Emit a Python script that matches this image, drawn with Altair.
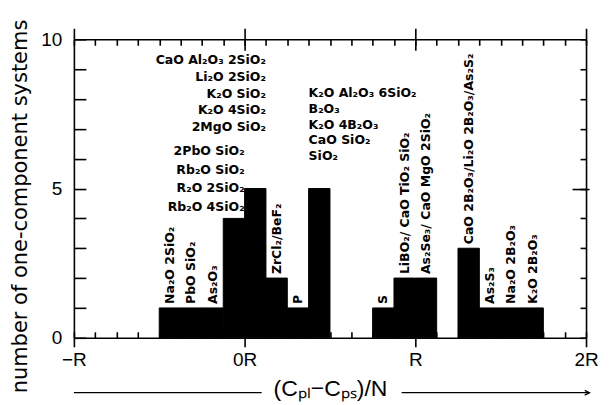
import altair as alt
import pandas as pd

# ---------------- data ----------------
bin_starts = [-0.5, -0.375, -0.25, -0.125, 0.0, 0.125, 0.25, 0.375,
              0.75, 0.875, 1.0, 1.25, 1.375, 1.5, 1.625]
counts = [1, 1, 1, 4, 5, 2, 1, 5, 1, 2, 2, 3, 1, 1, 1]
BIN_WIDTH = 0.125

rot_bins = [-0.5, -0.375, -0.25, 0.125, 0.25, 0.75, 0.875, 1.0,
            1.25, 1.375, 1.5, 1.625]
rot_texts = ["Na₂O 2SiO₂", "PbO SiO₂", "As₂O₃", "ZrCl₂/BeF₂", "P", "S",
             "LiBO₂/ CaO TiO₂ SiO₂", "As₂Se₃/ CaO MgO 2SiO₂",
             "CaO 2B₂O₃/Li₂O 2B₂O₃/As₂S₂", "As₂S₃", "Na₂O 2B₂O₃", "K₂O 2B₂O₃"]

# stacked lists of systems written above the tall bars
stack_a_bin = 0.0      # bar [0R, R/8], right-aligned at its right edge
stack_a = ["CaO Al₂O₃ 2SiO₂", "Li₂O 2SiO₂", "K₂O SiO₂", "K₂O 4SiO₂", "2MgO SiO₂"]
stack_b_bin = -0.125   # bar [-R/8, 0R], right-aligned at its right edge
stack_b = ["2PbO SiO₂", "Rb₂O SiO₂", "R₂O 2SiO₂", "Rb₂O 4SiO₂"]
stack_c_bin = 0.375    # bar [3R/8, R/2], left-aligned at its left edge
stack_c = ["K₂O Al₂O₃ 6SiO₂", "B₂O₃", "K₂O 4B₂O₃", "CaO SiO₂", "SiO₂"]

x_tick_values = [-1, 0, 1, 2]
x_tick_labels = ["−R", "0R", "R", "2R"]
y_tick_values = [0, 5, 10]
x_title = "(Cₚₗ−Cₚₛ)/N"
y_title = "number of one-component systems"

# ---------------- layout ----------------
W, H = 513, 299
XDOM, YDOM = [-1, 2], [0, 10]
LAB_FONT = "DejaVu Sans"
LAB_SIZE = 12.5
AX_FONT = "Liberation Sans"

# (top line y, step) in count units for stacked label groups
STACK_LAYOUT = {"a": (9.3, 0.56), "b": (6.25, 0.62), "c": (8.2, 0.53)}
ARROW_Y = H + 55
ARROW_SEGS = {"x": [-1.0, 0.92], "x2": [0.1, 2.02]}


def xs():
    return alt.Scale(domain=XDOM, nice=False, zero=False)


def ys():
    return alt.Scale(domain=YDOM, nice=False)


count_of = dict(zip(bin_starts, counts))
bars_df = pd.DataFrame({"x0": bin_starts,
                        "x1": [b + BIN_WIDTH for b in bin_starts],
                        "n": counts})

label_expr = " : ".join(
    f"datum.value == {v} ? '{t}'" for v, t in zip(x_tick_values[:-1], x_tick_labels[:-1])
) + f" : '{x_tick_labels[-1]}'"

base = alt.Chart(bars_df)

bars = base.mark_bar(color="black", stroke="black", strokeWidth=1).encode(
    x=alt.X("x0:Q", scale=xs(), axis=alt.Axis(
        orient="bottom", values=x_tick_values, labelExpr=label_expr,
        tickSize=9, labelPadding=4, labelFontSize=19, labelFlush=False,
        title=x_title, titleFontSize=23, titleFontWeight="normal",
        titleY=58, titleBaseline="alphabetic")),
    x2="x1",
    y=alt.Y("n:Q", scale=ys(), axis=alt.Axis(
        orient="left", values=y_tick_values, tickSize=0, labelPadding=12,
        labelFontSize=19, labelFlush=False,
        title=y_title, titleFontSize=21, titleFontWeight="normal",
        titleAngle=270, titleX=-53, titleY=167,
        titleAlign="center", titleBaseline="middle", titleFont="DejaVu Sans")),
    y2=alt.datum(0),
)

minor_x = [XDOM[0] + i * BIN_WIDTH for i in range(int((XDOM[1] - XDOM[0]) / BIN_WIDTH) + 1)]
minor_y = list(range(YDOM[0], YDOM[1] + 1))


def helper(xaxis, yaxis):
    return base.mark_point(opacity=0).encode(
        x=alt.X("x0:Q", scale=xs(), axis=xaxis),
        y=alt.Y("n:Q", scale=ys(), axis=yaxis),
    )


h1 = helper(
    alt.Axis(orient="top", values=x_tick_values, tickSize=11, labels=False, title=None),
    alt.Axis(orient="right", values=[5], tickSize=3, labels=False, title=None),
)
h2 = helper(
    alt.Axis(orient="top", offset=-H, values=minor_x, tickSize=6, labels=False,
             domain=False, title=None),
    alt.Axis(orient="right", offset=-W, values=minor_y, tickSize=12, labels=False,
             domain=False, title=None),
)
h3 = helper(
    alt.Axis(orient="bottom", offset=-H, values=minor_x, tickSize=6, labels=False,
             domain=False, title=None),
    alt.Axis(orient="left", offset=-W, values=minor_y, tickSize=6, labels=False,
             domain=False, title=None),
)
h4 = helper(
    alt.Axis(orient="bottom", offset=-H, values=[0, 1], tickSize=11, labels=False,
             domain=False, title=None),
    alt.Axis(orient="left", offset=-W, values=[5], tickSize=14, labels=False,
             domain=False, title=None),
)

# rotated labels
rot_df = pd.DataFrame({"x": [b + BIN_WIDTH / 2 for b in rot_bins],
                       "y": [count_of[b] for b in rot_bins],
                       "t": rot_texts})
rot = alt.Chart(rot_df).mark_text(
    angle=270, align="left", baseline="middle", dx=4, font=LAB_FONT,
    fontSize=LAB_SIZE, fontWeight="bold", color="black",
).encode(
    x=alt.X("x:Q", scale=xs(), axis=None),
    y=alt.Y("y:Q", scale=ys(), axis=None),
    text="t:N",
)


def stack_df(texts, xpos, key):
    top, step = STACK_LAYOUT[key]
    return pd.DataFrame({"x": [xpos] * len(texts),
                         "y": [top - i * step for i in range(len(texts))],
                         "t": texts})


right_df = pd.concat([stack_df(stack_a, stack_a_bin + BIN_WIDTH, "a"),
                      stack_df(stack_b, stack_b_bin + BIN_WIDTH, "b")])
left_df = stack_df(stack_c, stack_c_bin, "c")


def stack_layer(df, align):
    return alt.Chart(df).mark_text(
        align=align, baseline="middle", font=LAB_FONT, fontSize=LAB_SIZE,
        fontWeight="bold", color="black",
    ).encode(
        x=alt.X("x:Q", scale=xs(), axis=None),
        y=alt.Y("y:Q", scale=ys(), axis=None),
        text="t:N",
    )


stack_r = stack_layer(right_df, "right")
stack_l = stack_layer(left_df, "left")

arrow_df = pd.DataFrame(ARROW_SEGS)
arrow_lines = alt.Chart(arrow_df).mark_rule(color="black", strokeWidth=1.3).encode(
    x=alt.X("x:Q", scale=xs(), axis=None),
    x2="x2",
    y=alt.value(ARROW_Y),
)
arrow_head = alt.Chart(pd.DataFrame({"x": [ARROW_SEGS["x2"][-1]]})).mark_point(
    shape="M-1,-0.5L0,0L-1,0.5", filled=False, color="black", strokeWidth=1.3,
    size=90, opacity=1,
).encode(
    x=alt.X("x:Q", scale=xs(), axis=None),
    y=alt.value(ARROW_Y),
)

chart = alt.layer(
    h2, h3, h4, h1, bars, rot, stack_r, stack_l, arrow_lines, arrow_head
).resolve_scale(
    x="independent", y="independent"
).properties(
    width=W, height=H,
    autosize=alt.AutoSizeParams(type="none"),
    padding={"left": 66, "top": 31, "right": 20, "bottom": 80},
).configure_view(
    strokeWidth=0
).configure_axis(
    domainColor="black", tickColor="black", domainWidth=1.6, tickWidth=1.6,
    labelColor="black", titleColor="black", grid=False,
    labelFont=AX_FONT, titleFont=AX_FONT,
)

chart.save("out.html", embed_options={"renderer": "svg", "actions": False})
